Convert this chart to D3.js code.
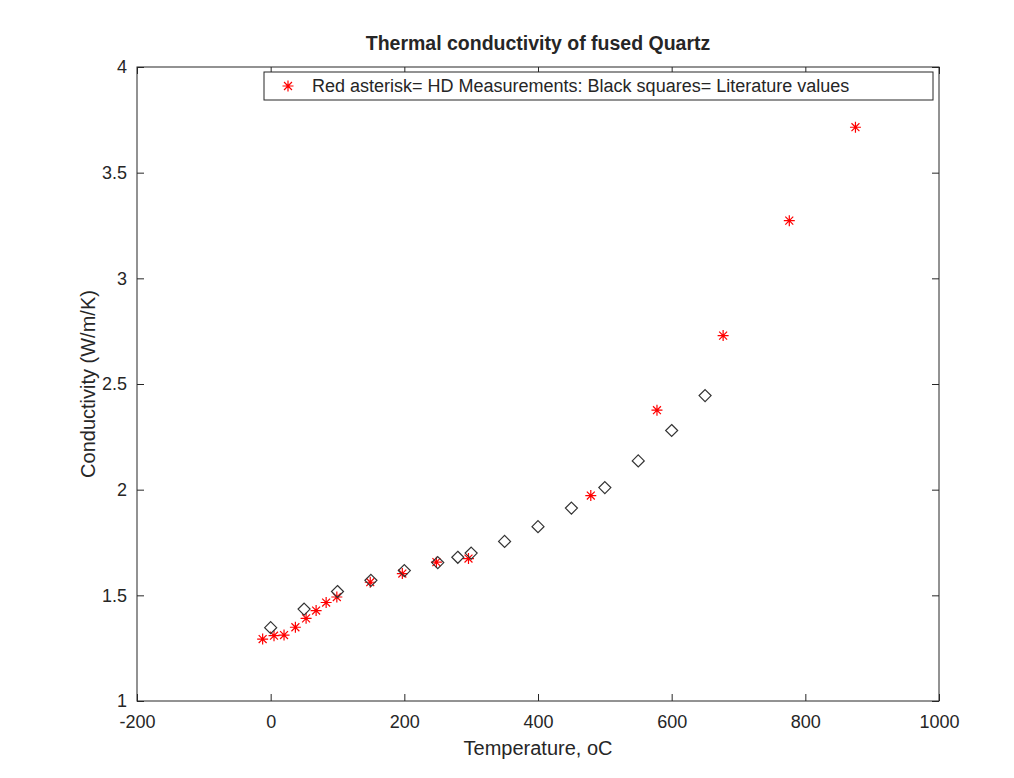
<!DOCTYPE html>
<html>
<head>
<meta charset="utf-8">
<script src="https://cdn.jsdelivr.net/npm/d3@7"></script>
<style>
  body { margin: 0; background: #fff; }
  text { font-family: "Liberation Sans", Arial, sans-serif; fill: #262626; }
</style>
</head>
<body>
<svg width="1014" height="778"></svg>
<script>
// HD measurements (red asterisks)
var hdTemp = [-12, 5, 20, 37, 53, 68, 83, 99, 149, 197, 248, 296, 479, 578, 677, 776, 875];
var hdCond = [1.293, 1.309, 1.312, 1.349, 1.391, 1.428, 1.466, 1.492, 1.562, 1.603, 1.657, 1.674, 1.972, 2.376, 2.729, 3.273, 3.715];

// literature values (black diamonds)
var litTemp = [0, 50, 100, 150, 200, 250, 280, 300, 350, 400, 450, 500, 550, 600, 650];
var litCond = [1.347, 1.435, 1.518, 1.571, 1.617, 1.655, 1.68, 1.70, 1.755, 1.825, 1.913, 2.01, 2.136, 2.28, 2.445];

var xTicks = [-200, 0, 200, 400, 600, 800, 1000];
var yTicks = [1, 1.5, 2, 2.5, 3, 3.5, 4];

var svg = d3.select("svg"),
  margin = {top: 67, right: 75, bottom: 77, left: 137},
  width = +svg.attr("width") - margin.left - margin.right,
  height = +svg.attr("height") - margin.top - margin.bottom;

var x = d3.scaleLinear().domain([-200, 1000]).range([0, width]),
  y = d3.scaleLinear().domain([1, 4]).range([height, 0]);

var g = svg.append("g")
  .attr("transform", "translate(" + margin.left + "," + margin.top + ")");

var axisColor = "#262626";

function styleAxis(sel) {
  sel.select(".domain").remove();
  sel.selectAll("line").attr("stroke", axisColor);
  sel.selectAll("text").attr("font-size", "18px").attr("fill", axisColor);
}

// bottom and left axes, ticks pointing inward
g.append("g")
  .attr("transform", "translate(0," + height + ")")
  .call(d3.axisBottom(x).tickValues(xTicks).tickSize(-7).tickPadding(14).tickFormat(function(d) { return String(d); }))
  .call(styleAxis);

g.append("g")
  .call(d3.axisLeft(y).tickValues(yTicks).tickSize(-7).tickPadding(10).tickFormat(function(d) { return String(d); }))
  .call(styleAxis);

// top and right ticks without labels
g.append("g")
  .call(d3.axisTop(x).tickValues(xTicks).tickSize(-7).tickFormat(""))
  .call(styleAxis);

g.append("g")
  .attr("transform", "translate(" + width + ",0)")
  .call(d3.axisRight(y).tickValues(yTicks).tickSize(-7).tickFormat(""))
  .call(styleAxis);

// box
g.append("rect")
  .attr("width", width)
  .attr("height", height)
  .attr("fill", "none")
  .attr("stroke", axisColor)
  .attr("stroke-width", 1);

// asterisk path (plus and cross)
var r = 5.5, rd = r * 0.72;
var star = "M" + (-r) + ",0L" + r + ",0M0," + (-r) + "L0," + r +
  "M" + (-rd) + "," + (-rd) + "L" + rd + "," + rd +
  "M" + (-rd) + "," + rd + "L" + rd + "," + (-rd);
var dm = 6;
var diamond = "M0," + (-dm) + "L" + dm + ",0L0," + dm + "L" + (-dm) + ",0Z";

var hd = hdTemp.map(function(t, i) { return {t: t, c: hdCond[i]}; });
var lit = litTemp.map(function(t, i) { return {t: t, c: litCond[i]}; });

g.selectAll(null)
  .data(hd)
  .enter()
  .append("path")
  .attr("d", star)
  .attr("transform", function(d) { return "translate(" + x(d.t) + "," + y(d.c) + ")"; })
  .attr("stroke", "#ff0000")
  .attr("stroke-width", 1.2)
  .attr("fill", "none");

g.selectAll(null)
  .data(lit)
  .enter()
  .append("path")
  .attr("d", diamond)
  .attr("transform", function(d) { return "translate(" + x(d.t) + "," + y(d.c) + ")"; })
  .attr("stroke", "#333")
  .attr("stroke-width", 1.2)
  .attr("fill", "none");

// legend
var legend = svg.append("g").attr("transform", "translate(264,72)");
legend.append("rect")
  .attr("width", 669)
  .attr("height", 28)
  .attr("fill", "#fff")
  .attr("stroke", axisColor);
legend.append("path")
  .attr("d", star)
  .attr("transform", "translate(24,14)")
  .attr("stroke", "#ff0000")
  .attr("stroke-width", 1.2)
  .attr("fill", "none");
legend.append("text")
  .attr("x", 48)
  .attr("y", 14)
  .attr("dy", "0.35em")
  .attr("font-size", "18px")
  .text("Red asterisk= HD Measurements: Black squares= Literature values");

// title and axis labels
svg.append("text")
  .attr("x", margin.left + width / 2)
  .attr("y", 50)
  .attr("text-anchor", "middle")
  .attr("font-size", "19.5px")
  .attr("font-weight", "bold")
  .attr("fill", "#000")
  .text("Thermal conductivity of fused Quartz");

svg.append("text")
  .attr("x", margin.left + width / 2)
  .attr("y", 755)
  .attr("text-anchor", "middle")
  .attr("font-size", "20px")
  .text("Temperature, oC");

svg.append("text")
  .attr("transform", "translate(95," + (margin.top + height / 2) + ") rotate(-90)")
  .attr("text-anchor", "middle")
  .attr("font-size", "20px")
  .text("Conductivity (W/m/K)");
</script>
</body>
</html>
